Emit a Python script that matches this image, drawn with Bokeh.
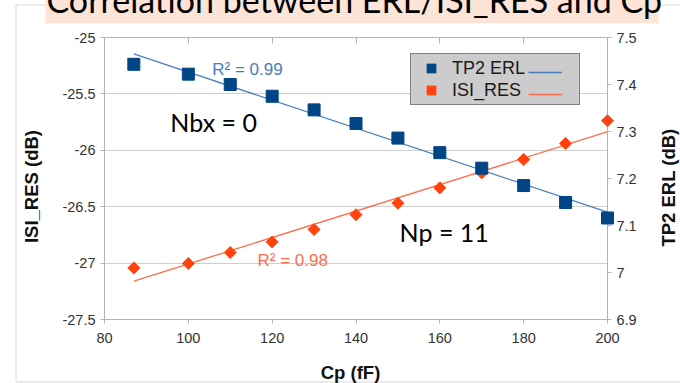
import math
import numpy as np
from bokeh.plotting import figure
from bokeh.models import (Range1d, LinearAxis, FixedTicker, NumeralTickFormatter,
                          Legend, LegendItem, Label)
from bokeh.core.properties import value
from bokeh.embed import file_html
from bokeh.resources import INLINE

# ---------------- data ----------------
cp = [87, 100, 110, 120, 130, 140, 150, 160, 170, 180, 190, 200]
tp2_erl = [7.443, 7.422, 7.400, 7.375, 7.346, 7.317, 7.286, 7.255, 7.222, 7.185, 7.149, 7.116]
isi_res = [-27.043, -27.004, -26.906, -26.812, -26.702, -26.571, -26.469, -26.333,
           -26.200, -26.081, -25.939, -25.738]
x_ticks = [80, 100, 120, 140, 160, 180, 200]
left_ticks = [-27.5, -27.0, -26.5, -26.0, -25.5, -25.0]
right_ticks = [6.9, 7.0, 7.1, 7.2, 7.3, 7.4, 7.5]
title_text = "Correlation between ERL/ISI_RES and Cp"
x_title = "Cp (fF)"
left_title = "ISI_RES (dB)"
right_title = "TP2 ERL (dB)"
r2_erl_text = "R² = 0.99"
r2_isi_text = "R² = 0.98"
note_nbx = "Nbx = 0"
note_np = "Np = 11"

# linear trend lines (regression of the series)
k1, b1 = np.polyfit(cp, tp2_erl, 1)
k2, b2 = np.polyfit(cp, isi_res, 1)
fit_x = [cp[0], cp[-1]]
fit_erl = [k1 * x + b1 for x in fit_x]
fit_isi = [k2 * x + b2 for x in fit_x]

SANS = "Liberation Sans"
AX = "#b3b3b3"
TXT = "#333333"

W, H = 680, 383
ML, MR, MT, MB = 104, 73, 37, 64

p = figure(width=W, height=H, x_range=Range1d(80, 200), y_range=Range1d(-27.5, -25),
           output_backend="svg", toolbar_location=None,
           min_border_left=ML, min_border_right=MR, min_border_top=MT, min_border_bottom=MB)
p.extra_y_ranges = {"erl": Range1d(6.9, 7.5), "py": Range1d(H - MB, MT)}
p.extra_x_ranges = {"px": Range1d(ML, W - MR)}
p.outline_line_color = AX
p.background_fill_color = "white"
p.border_fill_color = "white"

p.xgrid.visible = False
p.ygrid.ticker = FixedTicker(ticks=left_ticks)
p.ygrid.grid_line_color = "#cfcfcf"

def style(ax):
    ax.axis_line_color = AX
    ax.major_tick_line_color = AX
    ax.minor_tick_line_color = None
    ax.major_tick_in = 0
    ax.major_tick_out = 4
    ax.major_label_text_font = SANS
    ax.major_label_text_font_size = "14.5px"
    ax.major_label_text_color = TXT
    ax.formatter = NumeralTickFormatter(format="0.[0]")

xa = p.xaxis[0]
style(xa)
xa.ticker = FixedTicker(ticks=x_ticks)
xa.major_label_standoff = 9

ya = p.yaxis[0]
style(ya)
ya.ticker = FixedTicker(ticks=left_ticks)
ya.major_label_standoff = 5

ra = LinearAxis(y_range_name="erl")
style(ra)
ra.ticker = FixedTicker(ticks=right_ticks)
ra.major_label_standoff = 5
p.add_layout(ra, "right")

ta = LinearAxis()
style(ta)
ta.ticker = FixedTicker(ticks=x_ticks)
ta.major_tick_in = 6
ta.major_tick_out = 0
ta.major_label_text_color = None
ta.major_label_text_font_size = "1px"
ta.major_label_standoff = 0
p.add_layout(ta, "above")

# ---- chart frame decoration, title box and titles (page-pixel coordinates) ----
PX = dict(x_range_name="px", y_range_name="py", level="overlay")
p.quad(left=[15.5], right=[700], top=[4.5], bottom=[381.5], fill_color=None,
       line_color="#d9d9d9", line_width=1, **PX)
p.quad(left=[45], right=[658], top=[-10], bottom=[22.7], fill_color="#fce4d6",
       line_color=None, **PX)
p.text(x=[46], y=[-1.2], text=[title_text], text_font=value("Lato"),
       text_font_size=value("34px"), text_color="#000000", text_baseline="alphabetic",
       text_align="left", **PX)
p.text(x=[350], y=[371.6], text=[x_title], text_font=value(SANS), text_font_style="bold",
       text_font_size=value("18.5px"), text_color="#111111", text_baseline="alphabetic",
       text_align="center", **PX)
p.text(x=[31.3], y=[186], text=[left_title], angle=math.pi / 2, text_font=value(SANS),
       text_font_style="bold", text_font_size=value("18.5px"), text_color="#111111",
       text_baseline="alphabetic", text_align="center", **PX)
p.text(x=[667.6], y=[187], text=[right_title], angle=math.pi / 2, text_font=value(SANS),
       text_font_style="bold", text_font_size=value("18.5px"), text_color="#111111",
       text_baseline="alphabetic", text_align="center", **PX)

# ---- data glyphs ----
ln1 = p.line(fit_x, fit_erl, line_color="#4a7ebb", line_width=1.3, y_range_name="erl")
ln2 = p.line(fit_x, fit_isi, line_color="#ff6d4d", line_width=1.3)
dm = p.scatter(cp, isi_res, marker="square", angle=math.pi / 4, size=8.5,
               fill_color="#ff420e", line_color="#ff420e", level="overlay")
sq = p.scatter(cp, tp2_erl, marker="square", size=12, fill_color="#004586",
               line_color="#004586", y_range_name="erl", level="overlay")

# legends (marker + text, then line sample to the right)
leg1 = Legend(items=[LegendItem(label="TP2 ERL", renderers=[sq]),
                     LegendItem(label="ISI_RES", renderers=[dm])],
              location=(306, 214), orientation="vertical",
              padding=3, spacing=0, margin=0,
              glyph_width=34, glyph_height=22, label_height=22,
              label_width=124, label_standoff=4,
              label_text_font=SANS, label_text_font_size="18px",
              label_text_color="#1a1a1a",
              border_line_color="#333333", border_line_width=1,
              background_fill_color="#cccccc", background_fill_alpha=1.0)
p.add_layout(leg1)
leg2 = Legend(items=[LegendItem(label=" ", renderers=[ln1]),
                     LegendItem(label=" ", renderers=[ln2])],
              location=(424, 214), orientation="vertical",
              padding=3, spacing=0, margin=0,
              glyph_width=34, glyph_height=22, label_height=22,
              label_width=0, label_standoff=0,
              label_text_font=SANS, label_text_font_size="18px",
              border_line_color=None, background_fill_alpha=0.0)
p.add_layout(leg2)

# in-plot annotations
p.add_layout(Label(x=105.7, y=-25.28, text=r2_erl_text, text_color="#4a7ebb",
                   text_font=SANS, text_font_size="17px", text_baseline="middle"))
p.add_layout(Label(x=116.5, y=-26.98, text=r2_isi_text, text_color="#ff6d4d",
                   text_font=SANS, text_font_size="17px", text_baseline="middle"))
p.add_layout(Label(x=95.7, y=-25.75, text=note_nbx, text_color="#000000",
                   text_font="Lato", text_font_size="25px", text_baseline="middle"))
p.add_layout(Label(x=150.4, y=-26.72, text=note_np, text_color="#000000",
                   text_font="Lato", text_font_size="25px", text_baseline="middle"))

open("out.html", "w").write(file_html(p, INLINE))
